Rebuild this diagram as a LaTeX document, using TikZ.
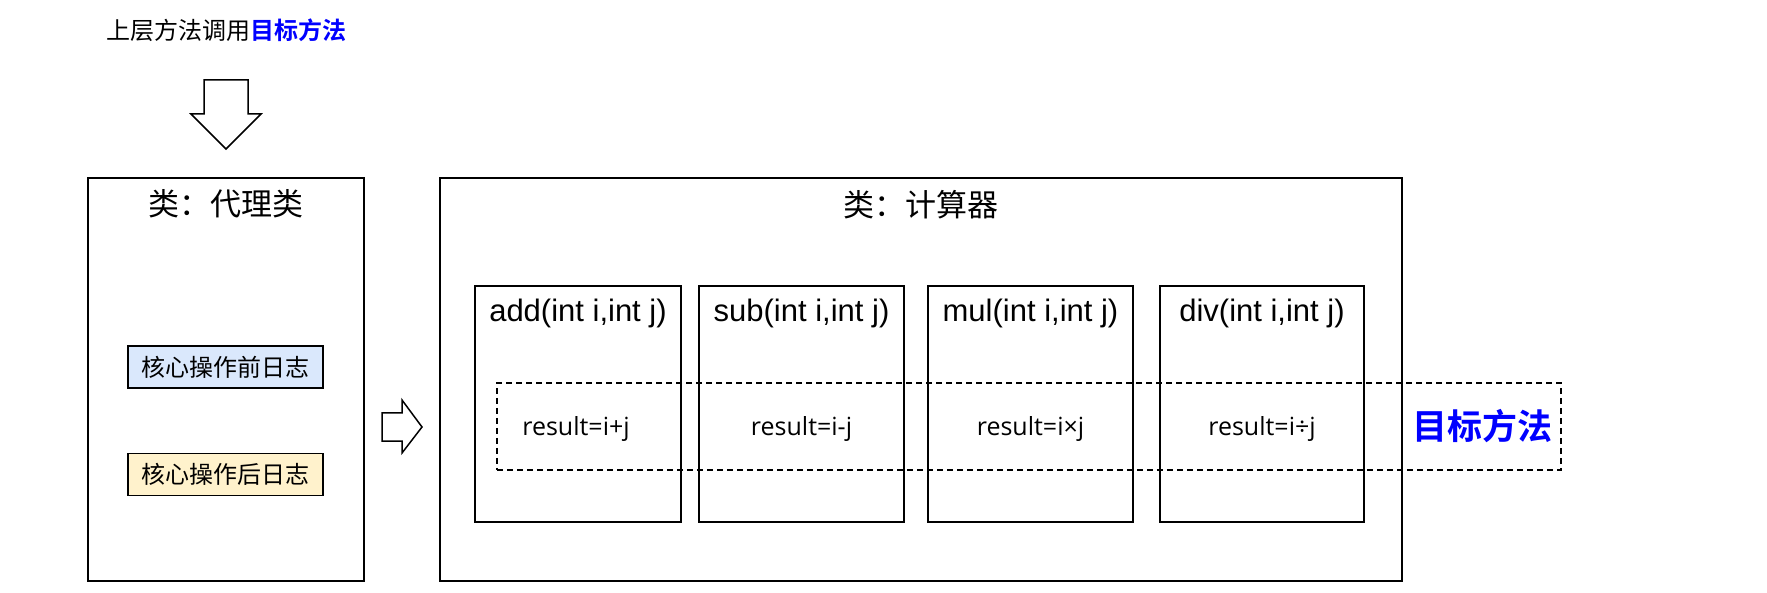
\documentclass[tikz,border=0pt]{standalone}
\usepackage{fontspec}
\setmainfont{Liberation Sans}
\newfontfamily\cjk{Noto Sans CJK SC}[BoldFont={Noto Sans CJK SC Bold}]
\newfontfamily\resfont{Open Sans}
\definecolor{pblue}{RGB}{218,232,252}
\definecolor{pyellow}{RGB}{255,242,204}
\definecolor{tblue}{RGB}{0,0,255}
\begin{document}
\begin{tikzpicture}[x=1pt,y=-1pt,
  box/.style={draw=black, line width=1.5pt, inner sep=0pt},
  logbox/.style={draw=black, line width=1.2pt, inner sep=0pt, minimum width=195pt, minimum height=42pt, font=\cjk\fontsize{24}{28}\selectfont},
  title/.style={font=\cjk\fontsize{31}{36}\selectfont, inner sep=0pt},
  mtitle/.style={font=\fontsize{31}{35}\selectfont, inner sep=0pt},
  res/.style={font=\resfont\fontsize{25}{29}\selectfont, inner sep=0pt},
  blockarrow/.style={draw=black, line width=1.5pt, fill=white, line join=miter}
]
\useasboundingbox (0,0) rectangle (1767,593);
\fill[white] (0,0) rectangle (1767,593);

% top label
\node[font=\cjk\fontsize{24}{28}\selectfont, inner sep=0pt] (top) at (226,30) {上层方法调用\textbf{\color{tblue}目标方法}};

% down block arrow
\draw[blockarrow] (204,80) -- (248,80) -- (248,114) -- (261,114) -- (226,149) -- (191,114) -- (204,114) -- cycle;

% proxy class
\node[box, minimum width=276pt, minimum height=403pt] (proxy) at (226,379.5) {};
\node[title] (ptitle) at (226,204) {类：代理类};
\node[logbox, fill=pblue] (before) at (225.5,367) {核心操作前日志};
\node[logbox, fill=pyellow] (after) at (225.5,474.5) {核心操作后日志};

% right block arrow
\draw[blockarrow] (382,413) -- (402,413) -- (402,400) -- (422,427) -- (402,453) -- (402,441) -- (382,441) -- cycle;

% calculator class
\node[box, minimum width=962pt, minimum height=403pt] (calc) at (921,379.5) {};
\node[title] (ctitle) at (921,205) {类：计算器};

\node[box, line width=1.3pt, minimum width=206pt, minimum height=236pt] (add) at (578,404) {};
\node[box, line width=1.3pt, minimum width=205pt, minimum height=236pt] (sub) at (801.5,404) {};
\node[box, line width=1.3pt, minimum width=205pt, minimum height=236pt] (mul) at (1030.5,404) {};
\node[box, line width=1.3pt, minimum width=204pt, minimum height=236pt] (div) at (1262,404) {};

\node[mtitle] (addt) at (578,313) {add(int i,int j)};
\node[mtitle] (subt) at (801.5,313) {sub(int i,int j)};
\node[mtitle] (mult) at (1030.5,313) {mul(int i,int j)};
\node[mtitle] (divt) at (1262,313) {div(int i,int j)};

% dashed target region
\node[draw=black, line width=1.2pt, dash pattern=on 6pt off 4pt, inner sep=0pt, minimum width=1064pt, minimum height=87pt] (target) at (1029,426.5) {};

\node[res] (addr) at (576,429) {result=i+j};
\node[res] (subr) at (801.5,429) {result=i-j};
\node[res] (mulr) at (1030.5,429) {result=i×j};
\node[res] (divr) at (1262,429) {result=i÷j};

\node[font=\cjk\bfseries\fontsize{35}{40}\selectfont, text=tblue, inner sep=0pt] (tlabel) at (1482,426) {目标方法};
\end{tikzpicture}
\end{document}
